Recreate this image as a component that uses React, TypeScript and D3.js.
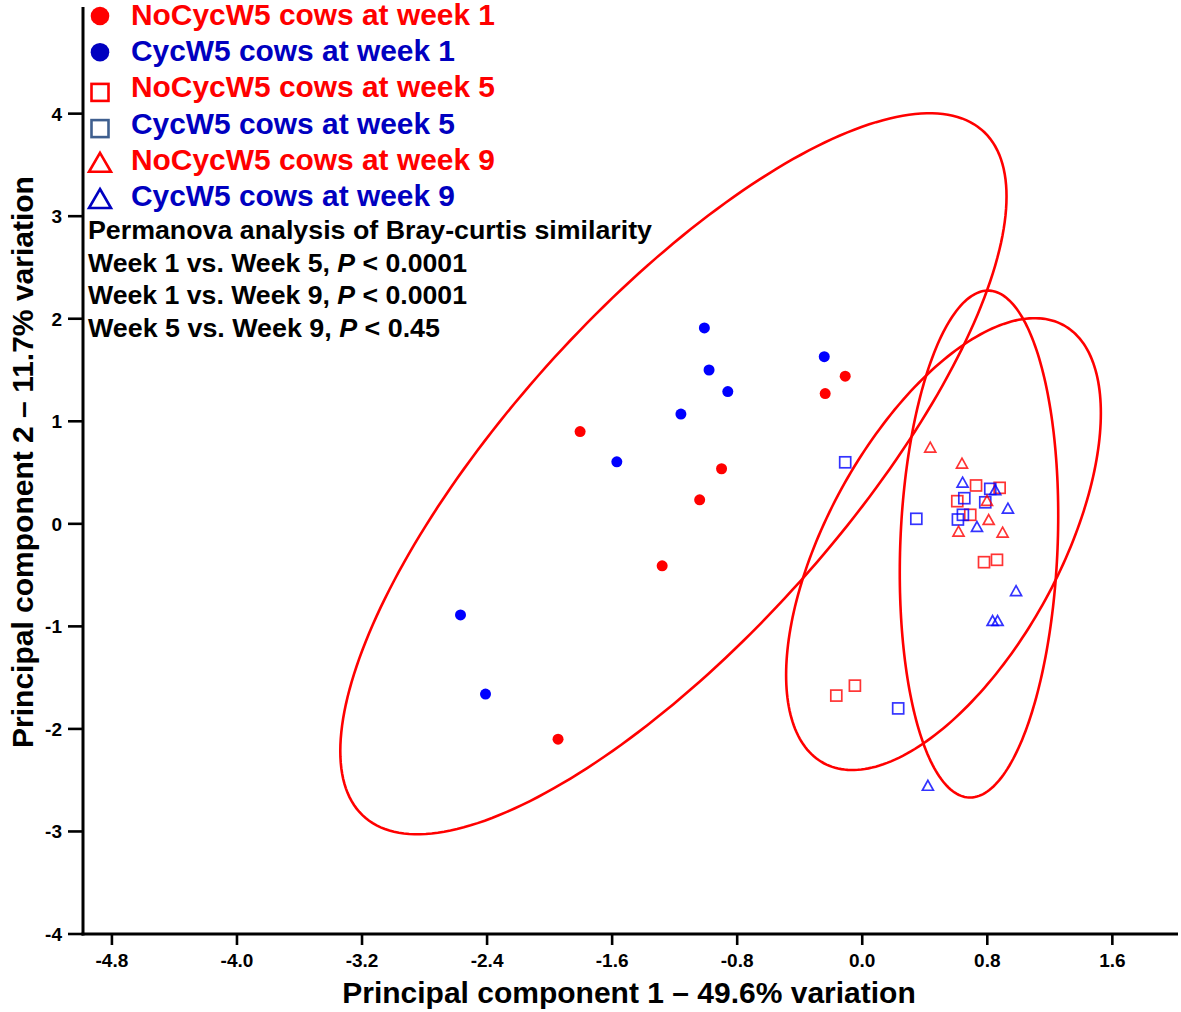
import React from "react";
import * as d3 from "d3";

// ---------- data ----------
const xTicks = [-4.8, -4.0, -3.2, -2.4, -1.6, -0.8, 0.0, 0.8, 1.6];
const xTickLabels = ["-4.8", "-4.0", "-3.2", "-2.4", "-1.6", "-0.8", "0.0", "0.8", "1.6"];
const yTicks = [-4, -3, -2, -1, 0, 1, 2, 3, 4];
const yTickLabels = ["-4", "-3", "-2", "-1", "0", "1", "2", "3", "4"];

const noCycWeek1: [number, number][] = [
  [-0.237, 1.27], [-0.109, 1.44], [-1.805, 0.9], [-0.9, 0.537],
  [-1.04, 0.234], [-1.28, -0.41], [-1.946, -2.1],
];
const cycWeek1: [number, number][] = [
  [-1.01, 1.91], [-0.243, 1.63], [-0.98, 1.5], [-0.86, 1.29],
  [-1.16, 1.07], [-1.57, 0.605], [-2.57, -0.888], [-2.41, -1.66],
];
const noCycWeek5: [number, number][] = [
  [0.728, 0.374], [0.879, 0.351], [0.608, 0.221], [0.691, 0.088],
  [0.779, -0.374], [0.862, -0.351], [-0.166, -1.675], [-0.047, -1.578],
];
const cycWeek5: [number, number][] = [
  [0.819, 0.341], [0.653, 0.25], [0.787, 0.21], [0.644, 0.088],
  [0.612, 0.042], [0.346, 0.049], [-0.109, 0.6], [0.23, -1.8],
];
const noCycWeek9: [number, number][] = [
  [0.435, 0.748], [0.638, 0.592], [0.798, 0.228], [0.809, 0.042],
  [0.616, -0.071], [0.898, -0.081],
];
const cycWeek9: [number, number][] = [
  [0.642, 0.407], [0.851, 0.332], [0.932, 0.153], [0.734, -0.026],
  [0.984, -0.651], [0.834, -0.943], [0.866, -0.943], [0.42, -2.55],
];

const legendLabels = [
  "NoCycW5 cows at week 1",
  "CycW5 cows at week 1",
  "NoCycW5 cows at week 5",
  "CycW5 cows at week 5",
  "NoCycW5 cows at week 9",
  "CycW5 cows at week 9",
];
const statTitle = "Permanova analysis of Bray-curtis similarity";
const statComparisons = ["Week 1 vs. Week 5, ", "Week 1 vs. Week 9, ", "Week 5 vs. Week 9, "];
const statPValues = [" < 0.0001", " < 0.0001", " < 0.45"];

const xTitle = "Principal component 1 \u2013 49.6% variation";
const yTitle = "Principal component 2 \u2013 11.7% variation";

// ---------- styling ----------
const RED = "#ff0000";
const BLUE = "#0000ff";
const LEG_BLUE = "#0000c0";
const SLATE = "#3f5f8f";
const FONT = "'Liberation Sans', Arial, Helvetica, sans-serif";

type Shape = "circle" | "square" | "triangle";
const series: { pts: [number, number][]; shape: Shape; color: string }[] = [
  { pts: noCycWeek1, shape: "circle", color: RED },
  { pts: cycWeek1, shape: "circle", color: BLUE },
  { pts: noCycWeek5, shape: "square", color: RED },
  { pts: cycWeek5, shape: "square", color: BLUE },
  { pts: noCycWeek9, shape: "triangle", color: RED },
  { pts: cycWeek9, shape: "triangle", color: BLUE },
];
const legendMarker: { shape: Shape; color: string; text: string }[] = [
  { shape: "circle", color: RED, text: RED },
  { shape: "circle", color: LEG_BLUE, text: LEG_BLUE },
  { shape: "square", color: RED, text: RED },
  { shape: "square", color: SLATE, text: LEG_BLUE },
  { shape: "triangle", color: RED, text: RED },
  { shape: "triangle", color: LEG_BLUE, text: LEG_BLUE },
];

// Hotelling-type 95% ellipse from the group's points
function ellipse(pts: [number, number][]): [number, number][] {
  const n = pts.length;
  const mx = d3.mean(pts, (p) => p[0])!;
  const my = d3.mean(pts, (p) => p[1])!;
  let sxx = 0, syy = 0, sxy = 0;
  pts.forEach(([x, y]) => {
    sxx += (x - mx) * (x - mx);
    syy += (y - my) * (y - my);
    sxy += (x - mx) * (y - my);
  });
  sxx /= n - 1; syy /= n - 1; sxy /= n - 1;
  const m = n - 2;
  const F = (m / 2) * (Math.pow(0.05, -2 / m) - 1);
  const k = Math.sqrt(((2 * (n - 1)) / (n - 2)) * F);
  const l11 = Math.sqrt(sxx);
  const l21 = sxy / l11;
  const l22 = Math.sqrt(Math.max(syy - l21 * l21, 0));
  return d3.range(0, 240).map((i) => {
    const t = (i / 240) * Math.PI * 2;
    const c = Math.cos(t), s = Math.sin(t);
    return [mx + k * l11 * c, my + k * (l21 * c + l22 * s)] as [number, number];
  });
}

function Marker({ shape, x, y, color, size, sw, opacity = 1 }: {
  shape: Shape; x: number; y: number; color: string; size: number; sw: number; opacity?: number;
}) {
  if (shape === "circle") return <circle cx={x} cy={y} r={size / 2} fill={color} />;
  if (shape === "square")
    return (
      <rect x={x - size / 2} y={y - size / 2} width={size} height={size}
        fill="none" stroke={color} strokeWidth={sw} strokeOpacity={opacity} />
    );
  const h = size * 0.9;
  return (
    <path d={`M${x},${y - h / 2}L${x + size / 2},${y + h / 2}L${x - size / 2},${y + h / 2}Z`}
      fill="none" stroke={color} strokeWidth={sw} strokeOpacity={opacity} strokeLinejoin="miter" />
  );
}

export default function App() {
  const W = 1181, H = 1012;
  const x = d3.scaleLinear().domain([-4.985, 2.02]).range([83, 1178]);
  const y = d3.scaleLinear().domain([-4, 5.04]).range([934, 7]);
  const line = d3.line<[number, number]>()
    .x((d) => x(d[0])).y((d) => y(d[1]))
    .curve(d3.curveLinearClosed);

  const groups = [
    noCycWeek1.concat(cycWeek1),
    noCycWeek5.concat(cycWeek5),
    noCycWeek9.concat(cycWeek9),
  ];

  const x0 = x.range()[0];
  const yBase = y(-4);

  return (
    <svg width={W} height={H} style={{ position: "absolute", left: 0, top: 0, background: "#fff" }}
      fontFamily={FONT} fontWeight="bold">
      <rect width={W} height={H} fill="#fff" />
      {/* ellipses */}
      {groups.map((g, i) => (
        <path key={i} d={line(ellipse(g)) || ""} fill="none" stroke={RED} strokeWidth={2.6} />
      ))}
      {/* points */}
      {series.map((s, si) =>
        s.pts.map((p, pi) => (
          <Marker key={`${si}-${pi}`} shape={s.shape} x={x(p[0])} y={y(p[1])} color={s.color}
            size={11} sw={1.7} opacity={0.8} />
        ))
      )}
      {/* axes */}
      <line x1={x0} x2={x0} y1={7} y2={yBase + 1.5} stroke="#000" strokeWidth={3} />
      <line x1={x0 - 1.5} x2={1178} y1={yBase} y2={yBase} stroke="#000" strokeWidth={3} />
      {yTicks.map((t, i) => (
        <g key={t}>
          <line x1={x0 - 15} x2={x0} y1={y(t)} y2={y(t)} stroke="#000" strokeWidth={2.6} />
          <text x={62} y={y(t) + 7} textAnchor="end" fontSize={19}>{yTickLabels[i]}</text>
        </g>
      ))}
      {xTicks.map((t, i) => (
        <g key={t}>
          <line x1={x(t)} x2={x(t)} y1={yBase} y2={yBase + 11} stroke="#000" strokeWidth={2.6} />
          <text x={x(t)} y={967} textAnchor="middle" fontSize={19}>{xTickLabels[i]}</text>
        </g>
      ))}
      {/* axis titles */}
      <text x={629} y={1003} textAnchor="middle" fontSize={30}>{xTitle}</text>
      <text transform={`translate(33,462) rotate(-90)`} textAnchor="middle" fontSize={30}>{yTitle}</text>
      {/* legend */}
      {legendLabels.map((lab, i) => {
        const b = 25 + i * 36.2;
        const m = legendMarker[i];
        let mk;
        if (m.shape === "circle") mk = <circle cx={100} cy={b - 9} r={9.3} fill={m.color} />;
        else if (m.shape === "square")
          mk = <rect x={100 - 8.5} y={b - 5 - 8.5} width={17} height={17} fill="none" stroke={m.color} strokeWidth={2.6} />;
        else
          mk = <path d={`M100,${b - 17}L${111},${b + 2}L${89},${b + 2}Z`} fill="none" stroke={m.color} strokeWidth={2.6} />;
        return (
          <g key={lab}>
            {mk}
            <text x={131} y={b} fontSize={29} fill={m.text} textLength={i % 2 === 0 ? 364 : 324}
              lengthAdjust="spacingAndGlyphs">{lab}</text>
          </g>
        );
      })}
      {/* stats */}
      <text x={88} y={239} fontSize={25} textLength={564} lengthAdjust="spacingAndGlyphs">{statTitle}</text>
      {statComparisons.map((c, i) => (
        <text key={i} x={88} y={271.5 + i * 32.5} fontSize={25}
          textLength={i === 2 ? 352 : 379} lengthAdjust="spacingAndGlyphs">
          {c}<tspan fontStyle="italic">P</tspan>{statPValues[i]}
        </text>
      ))}
    </svg>
  );
}
